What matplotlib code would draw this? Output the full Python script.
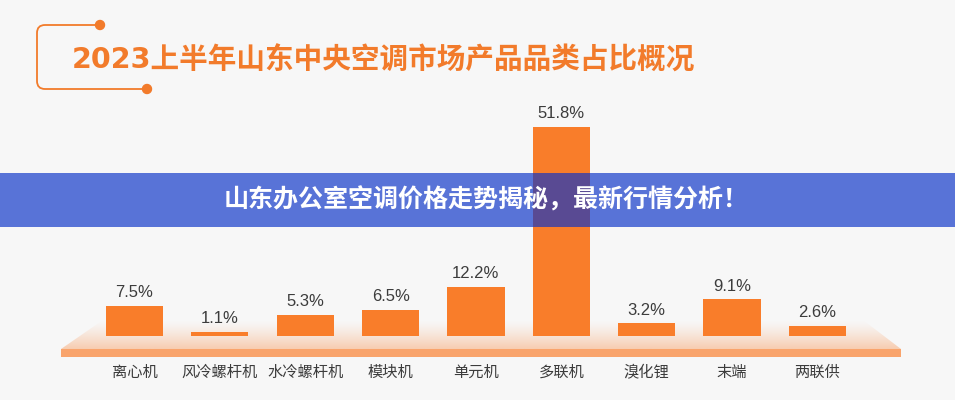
import numpy as np
import matplotlib
matplotlib.use("Agg")
import matplotlib.pyplot as plt
from matplotlib.patches import Polygon, Rectangle, Circle
from matplotlib.path import Path
from matplotlib.patches import PathPatch

categories = ["离心机", "风冷螺杆机", "水冷螺杆机", "模块机", "单元机", "多联机", "溴化锂", "末端", "两联供"]
values = [7.5, 1.1, 5.3, 6.5, 12.2, 51.8, 3.2, 9.1, 2.6]
value_labels = ["7.5%", "1.1%", "5.3%", "6.5%", "12.2%", "51.8%", "3.2%", "9.1%", "2.6%"]
title = "2023上半年山东中央空调市场产品品类占比概况"
banner = "山东办公室空调价格走势揭秘，最新行情分析！"

CJK = ["Noto Sans CJK SC", "DejaVu Sans"]
BG = "#f7f7f7"
ORANGE = "#f97d2a"
TITLE_C = "#f27b2b"
STRIP = "#f9a46c"
TXT = "#3c3c3c"

W, H = 955, 400
fig = plt.figure(figsize=(W / 100, H / 100), dpi=100, facecolor=BG)

# background decoration axes in pixel coordinates
bg = fig.add_axes([0, 0, 1, 1], zorder=0)
bg.set_xlim(0, W)
bg.set_ylim(H, 0)
bg.axis("off")
bg.set_facecolor(BG)

# title bracket decoration
r = 8
verts = [(100, 25), (37 + r, 25), (37, 25), (37, 25 + r), (37, 89 - r), (37, 89), (37 + r, 89), (147, 89)]
codes = [Path.MOVETO, Path.LINETO, Path.CURVE3, Path.CURVE3, Path.LINETO, Path.CURVE3, Path.CURVE3, Path.LINETO]
bg.add_patch(PathPatch(Path(verts, codes), fill=False, edgecolor=TITLE_C, lw=1.3))
bg.add_patch(Circle((100, 25), 4.5, color=TITLE_C))
bg.add_patch(Circle((147, 89), 4.5, color=TITLE_C))
bg.text(72, 60, title, fontsize=20.6, fontweight="bold", color=TITLE_C,
        family=["DejaVu Sans", "Noto Sans CJK SC"], ha="left", va="center")

# platform gradient trapezoid
trap = Polygon([(61, 349), (103, 320), (863, 320), (901, 349)], closed=True,
               facecolor="none", edgecolor="none")
bg.add_patch(trap)
grad = np.zeros((64, 2, 4))
grad[..., 0] = 249 / 255
grad[..., 1] = 164 / 255
grad[..., 2] = 108 / 255
grad[..., 3] = np.linspace(0.0, 0.6, 64)[:, None] ** 1.3
im = bg.imshow(grad, extent=(61, 901, 349, 320), aspect="auto", interpolation="bilinear", zorder=1)
im.set_clip_path(trap)
bg.add_patch(Rectangle((61, 349), 840, 8, facecolor=STRIP, edgecolor="none", zorder=2))

# bar axes
left_px, right_px = 91.85, 860.0
bottom_px, top_px = 336, 336 - 60 * 4.035
ax = fig.add_axes([left_px / W, (H - bottom_px) / H, (right_px - left_px) / W, (bottom_px - top_px) / H], zorder=2)
ax.patch.set_alpha(0)
x = np.arange(len(categories))
ax.bar(x, values, width=0.67, color=ORANGE, edgecolor="none")
ax.set_xlim(-0.5, len(categories) - 0.5)
ax.set_ylim(0, 60)
ax.axis("off")
for xi, v, lab in zip(x, values, value_labels):
    ax.annotate(lab, (xi, v), xytext=(0, 4), textcoords="offset points",
                ha="center", va="bottom", fontsize=12, color=TXT,
                family=["Liberation Sans", "DejaVu Sans"])
for xi, c in zip(x, categories):
    ax.annotate(c, (xi, 0), xycoords=("data", "axes fraction"), xytext=(0, -26.3),
                textcoords="offset points", ha="center", va="center",
                fontsize=11, color=TXT, family=CJK)

# foreground banner
fg = fig.add_axes([0, 0, 1, 1], zorder=3)
fg.set_xlim(0, W)
fg.set_ylim(H, 0)
fg.axis("off")
fg.patch.set_alpha(0)
fg.add_patch(Rectangle((0, 173), W, 54, facecolor=(10 / 255, 50 / 255, 200 / 255), alpha=0.67, edgecolor="none"))
fg.text(486, 200, banner, fontsize=18, fontweight="bold", color="white",
        family=CJK, ha="center", va="center")

fig.savefig("out.png", dpi=100, facecolor=BG)
